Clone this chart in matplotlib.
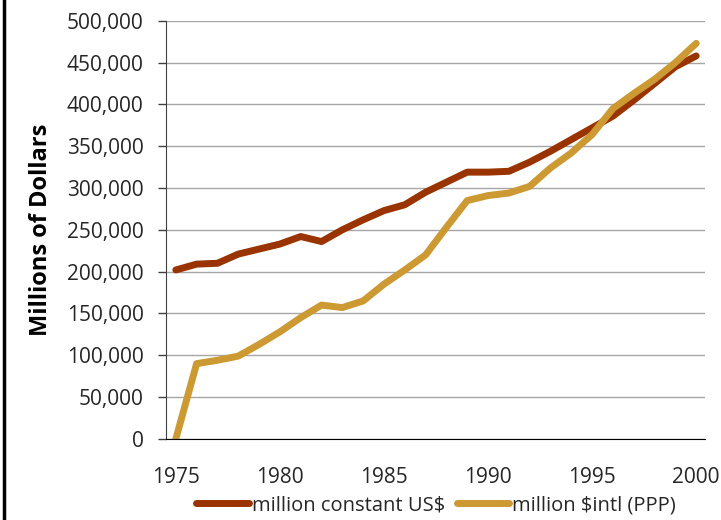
import matplotlib
matplotlib.use("Agg")
import matplotlib.pyplot as plt
from matplotlib.ticker import FuncFormatter
from matplotlib.lines import Line2D

plt.rcParams['font.family'] = ['Open Sans', 'DejaVu Sans']

years = list(range(1975, 2001))
# million constant US$
constant_usd = [202000, 209000, 210000, 221000, 227000, 233000, 242000, 236000,
                250000, 262000, 273000, 280000, 295000, 307000, 319000, 319000,
                320000, 331000, 344000, 358000, 372000, 386000, 405000, 425000,
                445000, 458000]
# million $intl (PPP)
intl_ppp = [0, 90000, 94000, 99000, 113000, 128000, 145000, 160000,
            157000, 165000, 185000, 202000, 220000, 253000, 285000, 291000,
            294000, 302000, 324000, 342000, 364000, 395000, 413000, 430000,
            450000, 473000]
yticks = list(range(0, 500001, 50000))
xticks = [1975, 1980, 1985, 1990, 1995, 2000]

fig = plt.figure(figsize=(7.21, 5.2), dpi=100)
ax = fig.add_axes([0.230, 0.156, 0.748, 0.804])

ax.plot(years, constant_usd, color="#993300", lw=5, solid_capstyle="round",
        solid_joinstyle="round", label="million constant US$")
ax.plot(years, intl_ppp, color="#CC9933", lw=5, solid_capstyle="round",
        solid_joinstyle="round", label="million $intl (PPP)")

ax.set_xlim(1974.52, 2000.43)
ax.set_ylim(0, 500000)
ax.set_yticks(yticks)
ax.set_xticks(xticks)
ax.yaxis.set_major_formatter(FuncFormatter(lambda v, p: f"{int(v):,}"))
ax.grid(axis="y", color="#A6A6A6", lw=1)
ax.set_axisbelow(True)

for s in ["top", "right"]:
    ax.spines[s].set_visible(False)
ax.spines["left"].set_color("#404040")
ax.spines["bottom"].set_color("black")
ax.tick_params(axis="y", length=6, width=1, color="#404040", pad=10, labelsize=15,
               labelcolor="#262626")
ax.tick_params(axis="x", length=0, pad=20, labelsize=15, labelcolor="#262626")

ax.set_ylabel("Millions of Dollars", fontsize=17, fontweight="bold")
ax.yaxis.set_label_coords(-0.21, 0.5)

fig.legend(loc="center", bbox_to_anchor=(0.605, 0.028), ncol=2, frameon=False,
           fontsize=14.5, handlelength=2.6, handletextpad=0.15, columnspacing=0.6,
           labelcolor="#262626", borderpad=0.1)

# frame edge on the left of the picture
fig.add_artist(Line2D([0.006, 0.006], [0, 1], color="black", lw=2.5,
                      transform=fig.transFigure))

fig.savefig("out.png", dpi=100)
